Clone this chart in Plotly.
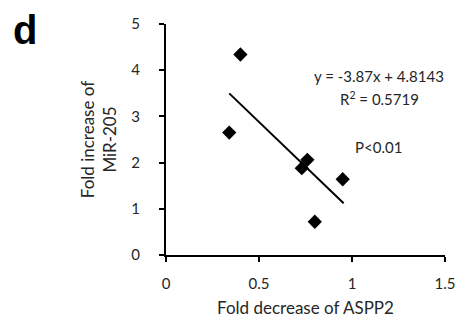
import plotly.graph_objects as go

# Data
aspp2_fold_decrease = [0.40, 0.34, 0.76, 0.73, 0.95, 0.80]
mir205_fold_increase = [4.34, 2.65, 2.06, 1.88, 1.64, 0.72]
slope = -3.87
intercept = 4.8143
fit_x = [0.34, 0.955]
fit_y = [slope * v + intercept for v in fit_x]
x_ticks = [0, 0.5, 1, 1.5]
x_tick_labels = ["0", "0.5", "1", "1.5"]
y_ticks = [0, 1, 2, 3, 4, 5]

FONT = "Lato"
TXT = "#262626"

fig = go.Figure()
fig.add_trace(go.Scatter(
    x=fit_x, y=fit_y, mode="lines",
    line=dict(color="black", width=2), showlegend=False, hoverinfo="skip"))
fig.add_trace(go.Scatter(
    x=aspp2_fold_decrease, y=mir205_fold_increase, mode="markers",
    marker=dict(symbol="diamond", size=11, color="black"), showlegend=False))

fig.add_annotation(x=1.145, y=3.87, xref="x", yref="y",
                   text="y = -3.87x + 4.8143", showarrow=False,
                   font=dict(family=FONT, size=15, color=TXT))
fig.add_annotation(x=1.15, y=3.38, xref="x", yref="y",
                   text="R<sup>2</sup> = 0.5719", showarrow=False,
                   font=dict(family=FONT, size=15, color=TXT))
fig.add_annotation(x=1.145, y=2.33, xref="x", yref="y",
                   text="P&lt;0.01", showarrow=False,
                   font=dict(family=FONT, size=15, color=TXT))
fig.add_annotation(x=-0.505, y=0.975, xref="paper", yref="paper",
                   xanchor="center", yanchor="middle",
                   text="<b>d</b>", showarrow=False,
                   font=dict(family="Liberation Sans", size=40, color="black"))

fig.update_layout(
    width=459, height=324,
    margin=dict(l=166, r=14, t=24, b=69, autoexpand=False),
    paper_bgcolor="white", plot_bgcolor="white",
    font=dict(family=FONT, size=15, color=TXT),
    xaxis=dict(range=[0, 1.5], tickvals=x_ticks, ticktext=x_tick_labels,
               showgrid=False, zeroline=False, showline=True,
               linecolor="black", linewidth=2, ticks="outside",
               ticklen=5, tickwidth=2, tickcolor="black",
               ticklabelstandoff=9,
               tickfont=dict(family=FONT, size=15, color=TXT),
               title=dict(text="Fold decrease of ASPP2", standoff=11,
                          font=dict(family=FONT, size=17, color=TXT))),
    yaxis=dict(range=[0, 5], tickvals=y_ticks,
               showgrid=False, zeroline=False, showline=True,
               linecolor="black", linewidth=2, ticks="outside",
               ticklen=5, tickwidth=2, tickcolor="black",
               ticklabelstandoff=16,
               tickfont=dict(family=FONT, size=15, color=TXT),
               title=dict(text="Fold increase of<br>MiR-205", standoff=10,
                          font=dict(family=FONT, size=17, color=TXT))),
)

fig.write_html("out.html")
